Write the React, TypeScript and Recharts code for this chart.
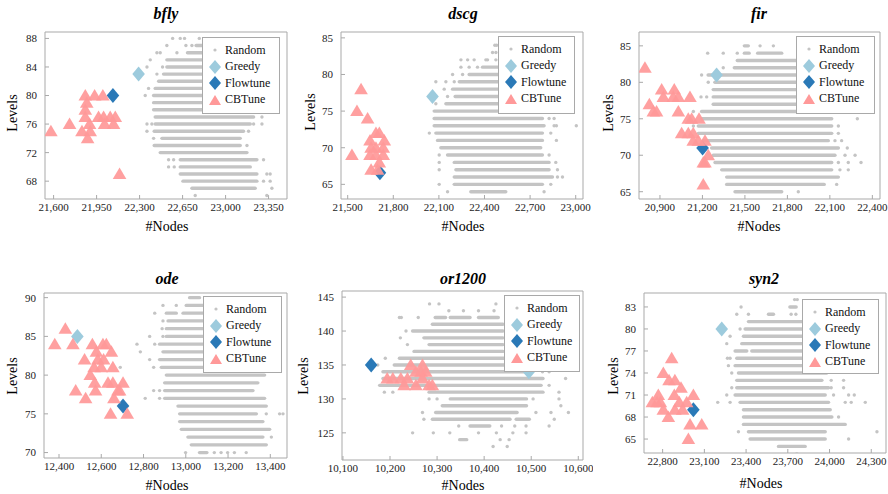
import React from "react";
import { ComposedChart, Scatter, Line, XAxis, YAxis, ReferenceArea } from "recharts";

type Pt = [number, number];
type Row = [number, number, number]; // level, from, to (dense run of random samples)

// ---------- bfly ----------
const bflyXTicks = [21600, 21950, 22300, 22650, 23000, 23350];
const bflyYTicks = [68, 72, 76, 80, 84, 88];
const bflyRows: Row[] = [
  [87, 22760, 23000], [86, 22690, 23100], [85, 22522, 23150], [84, 22522, 23200],
  [83, 22495, 23250], [82, 22455, 23250], [81, 22427, 23280], [80, 22414, 23300],
  [79, 22414, 23300], [78, 22414, 23300], [77, 22427, 23228], [76, 22427, 23201],
  [75, 22419, 23146], [74, 22482, 23119], [73, 22419, 23119], [72, 22468, 23174],
  [71, 22631, 23255], [70, 22631, 23201], [69, 22631, 23255], [68, 22653, 23255],
  [67, 22726, 23241],
];
const bflyDots: Pt[] = [
  [22569, 88], [22631, 88], [22666, 88], [22786, 88], [22522, 87], [22677, 87], [22726, 87],
  [22441, 86], [22468, 86], [22604, 86], [22387, 85], [22360, 84], [22487, 84], [22441, 83],
  [22373, 81], [22346, 80], [23296, 77], [22360, 76], [22400, 76], [23228, 76], [23296, 76],
  [22360, 75], [23187, 75], [22414, 74], [23174, 73], [22536, 71], [22577, 71], [23309, 71],
  [22536, 70], [22582, 70], [23336, 69], [23363, 69], [23309, 68], [23363, 68], [23377, 67],
  [22753, 66], [23336, 66],
];
const bflyGreedy: Pt[] = [[22292, 83]];
const bflyFlowtune: Pt[] = [[22083, 80]];
const bflyCBTune: Pt[] = [
  [21578, 75], [21730, 76], [21858, 80], [21934, 80], [22001, 80], [21858, 78], [21870, 79],
  [21858, 77], [21893, 76], [21831, 75], [21898, 75], [21877, 74], [21966, 77], [22007, 77],
  [22061, 77], [22102, 77], [22015, 76], [22088, 76], [22137, 69],
];

// ---------- dscg ----------
const dscgXTicks = [21500, 21800, 22100, 22400, 22700, 23000];
const dscgYTicks = [65, 70, 75, 80, 85];
const dscgRows: Row[] = [
  [81, 22387, 22600], [80, 22299, 22650], [79, 22234, 22700], [78, 22190, 22750],
  [77, 22207, 22750], [76, 22146, 22780], [75, 22069, 22781], [74, 22069, 22781],
  [73, 22069, 22792], [72, 22080, 22781], [71, 22091, 22781], [70, 22113, 22770],
  [69, 22157, 22781], [68, 22201, 22825], [67, 22212, 22825], [66, 22201, 22847],
  [65, 22201, 22781], [64, 22310, 22540],
];
const dscgDots: Pt[] = [
  [22468, 84], [22480, 84], [22453, 83], [22475, 83], [22245, 82], [22289, 82], [22332, 82],
  [22409, 82], [22420, 82], [22475, 82], [22245, 81], [22299, 81], [22354, 81], [22190, 80],
  [22256, 80], [22080, 79], [22146, 79], [22201, 79], [22135, 78], [22157, 77], [22080, 76],
  [22825, 75], [22869, 75], [22825, 74], [22858, 74], [22858, 73], [22873, 73], [23004, 73],
  [22037, 72], [22836, 72], [22873, 71], [22102, 69], [22825, 69], [22102, 68], [22869, 68],
  [22102, 67], [22880, 67], [22880, 66], [22913, 66], [22102, 65], [22836, 65], [22157, 64],
  [22792, 64],
];
const dscgGreedy: Pt[] = [[22058, 77]];
const dscgFlowtune: Pt[] = [[21712, 66.6]];
const dscgCBTune: Pt[] = [
  [21588, 78], [21561, 75], [21631, 74], [21528, 69], [21647, 71], [21686, 72], [21708, 72],
  [21741, 71], [21654, 70], [21686, 70], [21734, 70], [21647, 69], [21686, 69], [21734, 69],
  [21654, 67], [21697, 67], [21708, 68],
];

// ---------- fir ----------
const firXTicks = [20900, 21200, 21500, 21800, 22100, 22400];
const firYTicks = [65, 70, 75, 80, 85];
const firRows: Row[] = [
  [85, 21496, 21524], [84, 21496, 21530], [84, 21590, 21760], [83, 21446, 21900],
  [82, 21425, 22000], [81, 21240, 22050], [80, 21288, 22100], [79, 21276, 22100],
  [78, 21276, 22150], [77, 21276, 22150], [76, 21194, 22150], [75, 21194, 22113],
  [74, 21171, 22113], [73, 21171, 22113], [72, 21206, 22089], [71, 21265, 22160],
  [70, 21276, 22136], [69, 21289, 22113], [68, 21336, 22113], [67, 21371, 22160],
  [66, 21371, 22060], [65, 21430, 21760],
];
const firDots: Pt[] = [
  [21607, 85], [21701, 85], [21237, 84], [21347, 84], [21446, 84], [21347, 82], [21194, 81],
  [21241, 80], [21190, 78], [21230, 78], [21136, 76], [22294, 75], [21136, 74], [22160, 74],
  [22160, 73], [22136, 72], [22183, 72], [22223, 71], [22207, 70], [22278, 70], [22160, 69],
  [22230, 69], [22320, 69], [22171, 68], [22230, 68], [22148, 66], [21877, 65],
];
const firGreedy: Pt[] = [[21300, 81]];
const firFlowtune: Pt[] = [[21201, 71]];
const firCBTune: Pt[] = [
  [20794, 82], [20825, 77], [20853, 76], [20876, 76], [20912, 79], [20924, 78], [21001, 79],
  [20994, 78], [21030, 78], [21112, 78], [21030, 76], [21100, 75], [21124, 75], [21176, 75],
  [21053, 73], [21100, 73], [21135, 73], [21135, 72], [21171, 72], [21218, 72], [21241, 70],
  [21206, 69], [21218, 69], [21206, 66],
];

// ---------- ode ----------
const odeXTicks = [12400, 12600, 12800, 13000, 13200, 13400];
const odeYTicks = [70, 75, 80, 85, 90];
const odeRows: Row[] = [
  [90, 13018, 13065], [89, 13002, 13150], [88, 12908, 12955], [88, 12987, 13200],
  [87, 12916, 13250], [86, 12908, 13250], [85, 12908, 13280], [84, 12876, 13300],
  [83, 12892, 13300], [82, 12876, 13320], [81, 12884, 13340], [80, 12908, 13373],
  [79, 12900, 13341], [78, 12900, 13318], [77, 12900, 13373], [76, 12963, 13381],
  [75, 12971, 13334], [74, 12971, 13365], [73, 12979, 13397], [72, 13010, 13365],
  [71, 13026, 13381], [70, 13065, 13100],
];
const odeDots: Pt[] = [
  [12892, 89], [12955, 89], [12853, 88], [12892, 87], [12888, 86], [12829, 85], [12892, 85],
  [12769, 84], [12853, 84], [12785, 83], [12829, 82], [12848, 81], [12690, 81], [12848, 78],
  [12876, 78], [12808, 77], [12876, 77], [13381, 75], [13444, 75], [13460, 75], [13405, 72],
  [12999, 70], [13135, 70], [13167, 70], [13198, 70], [13230, 70], [13286, 70], [13058, 69],
];
const odeGreedy: Pt[] = [[12487, 85]];
const odeFlowtune: Pt[] = [[12703, 76]];
const odeCBTune: Pt[] = [
  [12430, 86], [12380, 84], [12466, 84], [12558, 84], [12608, 84], [12624, 84], [12577, 83],
  [12648, 83], [12521, 82], [12584, 82], [12611, 82], [12566, 81], [12600, 81], [12655, 81],
  [12548, 80], [12569, 79], [12632, 79], [12655, 79], [12703, 79], [12479, 78], [12573, 78],
  [12679, 78], [12687, 78], [12526, 77], [12660, 77], [12644, 75], [12723, 75],
];

// ---------- or1200 ----------
const orXTicks = [10100, 10200, 10300, 10400, 10500, 10600];
const orYTicks = [125, 130, 135, 140, 145];
const orRows: Row[] = [
  [142, 10296, 10318], [142, 10328, 10370], [142, 10388, 10430], [141, 10290, 10440],
  [140, 10248, 10440], [139, 10272, 10440], [138, 10283, 10440], [137, 10251, 10440],
  [136, 10220, 10450], [135, 10209, 10460], [134, 10185, 10500], [133, 10185, 10525],
  [132, 10178, 10521], [131, 10283, 10525], [130, 10328, 10490], [129, 10311, 10490],
  [128, 10297, 10470], [127, 10290, 10455], [127, 10468, 10496], [126, 10370, 10412],
  [124, 10348, 10363],
];
const orDots: Pt[] = [
  [10284, 144], [10304, 144], [10425, 144], [10325, 143], [10356, 143], [10388, 143],
  [10421, 143], [10220, 142], [10224, 142], [10260, 142], [10234, 140], [10222, 139],
  [10237, 138], [10190, 136], [10174, 135], [10524, 134], [10538, 134], [10573, 133],
  [10538, 132], [10188, 131], [10206, 131], [10559, 131], [10283, 130], [10300, 130],
  [10504, 130], [10559, 130], [10563, 129], [10269, 128], [10510, 128], [10542, 128],
  [10579, 128], [10272, 127], [10549, 127], [10346, 126], [10437, 126], [10465, 126],
  [10489, 126], [10538, 126], [10248, 125], [10292, 125], [10327, 125], [10388, 125],
  [10426, 125], [10461, 125], [10489, 125], [10434, 124], [10453, 124], [10419, 123],
  [10449, 123],
];
const orGreedy: Pt[] = [[10495, 134]];
const orFlowtune: Pt[] = [[10160, 135]];
const orCBTune: Pt[] = [
  [10194, 133], [10206, 133], [10223, 133], [10244, 135], [10237, 133], [10255, 134],
  [10269, 135], [10266, 134], [10276, 134], [10255, 132], [10283, 132], [10269, 133],
  [10290, 132], [10230, 132],
];

// ---------- syn2 ----------
const synXTicks = [22800, 23100, 23400, 23700, 24000, 24300];
const synYTicks = [65, 68, 71, 74, 77, 80, 83];
const synRows: Row[] = [
  [83, 23715, 23760], [82, 23561, 23597], [81, 23417, 23800], [80, 23393, 23850],
  [79, 23381, 23900], [78, 23369, 23900], [77, 23321, 23405], [77, 23441, 23950],
  [76, 23333, 23950], [75, 23321, 23950], [74, 23345, 23980], [73, 23333, 23945],
  [72, 23333, 23993], [71, 23321, 23969], [70, 23357, 23993], [69, 23381, 24005],
  [68, 23381, 24017], [67, 23381, 24113], [66, 23417, 23969], [65, 23429, 23969],
  [64, 23633, 23825],
];
const synDots: Pt[] = [
  [23749, 84], [23768, 84], [23364, 83], [23333, 82], [23417, 82], [23724, 82], [23758, 82],
  [23357, 80], [23285, 79], [23261, 78], [23266, 76], [23285, 76], [23273, 75], [23297, 74],
  [24012, 73], [24101, 73], [23297, 72], [24012, 72], [24101, 72], [23261, 71], [24029, 71],
  [24137, 71], [24178, 71], [23196, 70], [23285, 70], [24113, 70], [24156, 70], [24257, 70],
  [24065, 68], [23345, 66], [24341, 66], [24137, 65], [23765, 63],
];
const synGreedy: Pt[] = [[23225, 80]];
const synFlowtune: Pt[] = [[23021, 69]];
const synCBTune: Pt[] = [
  [22865, 76], [22805, 74], [22846, 73], [22888, 73], [22932, 72], [22726, 70], [22769, 71],
  [22784, 70], [22805, 69], [22841, 68], [22884, 71], [22888, 69], [22920, 70], [22944, 69],
  [22973, 70], [23021, 71], [22997, 67], [23081, 67], [22985, 65], [22760, 70],
];

const GRAY = "#c4c4c4";
const GREEDY = "#9dcbdd";
const FLOW = "#2a79b7";
const CB = "#ff9999";
const FRAME = "#a9a9a9";
const FONT = "Liberation Serif, DejaVu Serif, serif";

const pts = (a: Pt[]) => a.map(([x, y]) => ({ x, y }));
const fmt = (v: number) => v.toLocaleString("en-US");

const dotShape = (p: any) => <circle cx={p.cx} cy={p.cy} r={1.7} fill={GRAY} />;
const diamondShape = (color: string) => (p: any) => (
  <polygon
    points={`${p.cx},${p.cy - 7.5} ${p.cx + 6.3},${p.cy} ${p.cx},${p.cy + 7.5} ${p.cx - 6.3},${p.cy}`}
    fill={color}
  />
);
const triShape = (p: any) => (
  <polygon
    points={`${p.cx},${p.cy - 6.5} ${p.cx + 6.8},${p.cy + 5} ${p.cx - 6.8},${p.cy + 5}`}
    fill={CB}
    fillOpacity={0.93}
  />
);

const panels = [
  { title: "bfly", box: [45, 32, 287, 199], xd: [21530, 23500], yd: [65.5, 88.9], xt: bflyXTicks, yt: bflyYTicks, rows: bflyRows, dots: bflyDots, greedy: bflyGreedy, flow: bflyFlowtune, cb: bflyCBTune, leg: [202, 37, 78, 77], tpos: [166, 14], xl: [167, 227], yl: [13, 113] },
  { title: "dscg", box: [341, 32, 583, 199], xd: [21456, 23048], yd: [63.0, 85.8], xt: dscgXTicks, yt: dscgYTicks, rows: dscgRows, dots: dscgDots, greedy: dscgGreedy, flow: dscgFlowtune, cb: dscgCBTune, leg: [498, 36, 77, 78], tpos: [463, 14], xl: [463, 227], yl: [311, 112] },
  { title: "fir", box: [639, 32, 880, 199], xd: [20752, 22454], yd: [64.0, 86.9], xt: firXTicks, yt: firYTicks, rows: firRows, dots: firDots, greedy: firGreedy, flow: firFlowtune, cb: firCBTune, leg: [796, 36, 79, 78], tpos: [759, 14], xl: [759, 227], yl: [609, 113] },
  { title: "ode", box: [44, 293, 287, 458], xd: [12329, 13479], yd: [69.3, 90.6], xt: odeXTicks, yt: odeYTicks, rows: odeRows, dots: odeDots, greedy: odeGreedy, flow: odeFlowtune, cb: odeCBTune, leg: [203, 296, 79, 77], tpos: [167, 279], xl: [167, 486], yl: [13, 376] },
  { title: "or1200", box: [342, 291, 583, 460], xd: [10098, 10610], yd: [121.0, 145.9], xt: orXTicks, yt: orYTicks, rows: orRows, dots: orDots, greedy: orGreedy, flow: orFlowtune, cb: orCBTune, leg: [504, 295, 76, 77], tpos: [463, 279], xl: [463, 486], yl: [304, 376] },
  { title: "syn2", box: [644, 293, 886, 453], xd: [22666, 24406], yd: [63.1, 84.9], xt: synXTicks, yt: synYTicks, rows: synRows, dots: synDots, greedy: synGreedy, flow: synFlowtune, cb: synCBTune, leg: [802, 299, 77, 75], tpos: [764, 279], xl: [761, 484], yl: [614, 376] },
];

const tickStyle = { fontSize: 11, fill: "#222", fontFamily: FONT };

function LegendBox({ leg }: { leg: number[] }) {
  const [x, y, w, h] = leg;
  const items = [
    { name: "Random", m: <circle cx={7} cy={7} r={1.6} fill={GRAY} /> },
    { name: "Greedy", m: <polygon points="7,0 13,7 7,14 1,7" fill={GREEDY} /> },
    { name: "Flowtune", m: <polygon points="7,0 13,7 7,14 1,7" fill={FLOW} /> },
    { name: "CBTune", m: <polygon points="7,2 13,12 1,12" fill={CB} /> },
  ];
  return (
    <div
      style={{
        position: "absolute", left: x, top: y, width: w, height: h, boxSizing: "border-box",
        background: "#fff", border: `1px solid ${FRAME}`, fontFamily: FONT, fontSize: 12, color: "#111",
      }}
    >
      {items.map((it, i) => (
        <div key={it.name} style={{ position: "absolute", left: 5, top: 4 + i * 16.6, height: 16, display: "flex", alignItems: "center" }}>
          <svg width={14} height={14} style={{ marginRight: 3 }}>{it.m}</svg>
          <span>{it.name}</span>
        </div>
      ))}
    </div>
  );
}

function Panel({ p }: { p: any }) {
  const [L, T, R, B] = p.box;
  const padL = 45, padT = 10, padR = 10, padB = 30;
  const W = R - L + padL + padR;
  const H = B - T + padT + padB;
  return (
    <>
      <div style={{ position: "absolute", left: L - padL, top: T - padT }}>
        <ComposedChart width={W} height={H} margin={{ top: padT - 1, right: padR - 1, bottom: 0, left: 0 }}>
          <XAxis
            type="number" dataKey="x" domain={p.xd} ticks={p.xt} allowDataOverflow interval={0}
            height={padB} axisLine={false} tickSize={-4} tickMargin={8}
            tickLine={{ stroke: FRAME }} tick={tickStyle} tickFormatter={fmt}
          />
          <XAxis
            xAxisId="top" orientation="top" type="number" domain={p.xd} ticks={p.xt} allowDataOverflow
            interval={0} height={1} axisLine={false} tick={false} tickSize={-4} tickLine={{ stroke: FRAME }}
          />
          <YAxis
            type="number" dataKey="y" domain={p.yd} ticks={p.yt} allowDataOverflow interval={0}
            width={padL} axisLine={false} tickSize={-4} tickMargin={12}
            tickLine={{ stroke: FRAME }} tick={tickStyle}
          />
          <YAxis
            yAxisId="right" orientation="right" type="number" domain={p.yd} ticks={p.yt} allowDataOverflow
            interval={0} width={1} axisLine={false} tick={false} tickSize={-4} tickLine={{ stroke: FRAME }}
          />
          {p.rows.map((r: Row, i: number) => (
            <Line
              key={"r" + i}
              data={[{ x: r[1], y: r[0] }, { x: r[2], y: r[0] }]}
              dataKey="y" stroke={GRAY} strokeWidth={3.4} strokeLinecap="round"
              dot={false} activeDot={false} isAnimationActive={false}
            />
          ))}
          <Scatter data={pts(p.dots)} shape={dotShape} isAnimationActive={false} />
          <Scatter data={pts(p.greedy)} shape={diamondShape(GREEDY)} isAnimationActive={false} />
          <Scatter data={pts(p.flow)} shape={diamondShape(FLOW)} isAnimationActive={false} />
          <Scatter data={pts(p.cb)} shape={triShape} isAnimationActive={false} />
          <ReferenceArea
            x1={p.xd[0]} x2={p.xd[1]} y1={p.yd[0]} y2={p.yd[1]}
            fill="none" stroke={FRAME} strokeWidth={1} ifOverflow="visible"
          />
        </ComposedChart>
      </div>
      <LegendBox leg={p.leg} />
      <div style={{ position: "absolute", left: p.tpos[0], top: p.tpos[1], transform: "translate(-50%,-50%)", fontFamily: FONT, fontSize: 16, fontWeight: "bold", fontStyle: "italic", whiteSpace: "nowrap" }}>
        {p.title}
      </div>
      <div style={{ position: "absolute", left: p.xl[0], top: p.xl[1], transform: "translate(-50%,-50%)", fontFamily: FONT, fontSize: 14, whiteSpace: "nowrap" }}>
        #Nodes
      </div>
      <div style={{ position: "absolute", left: p.yl[0], top: p.yl[1], transform: "translate(-50%,-50%) rotate(-90deg)", fontFamily: FONT, fontSize: 14, whiteSpace: "nowrap" }}>
        Levels
      </div>
    </>
  );
}

export default function App() {
  return (
    <div style={{ position: "absolute", left: 0, top: 0, width: 888, height: 494, background: "#fff", overflow: "hidden" }}>
      {panels.map((p) => (
        <Panel key={p.title} p={p} />
      ))}
    </div>
  );
}
